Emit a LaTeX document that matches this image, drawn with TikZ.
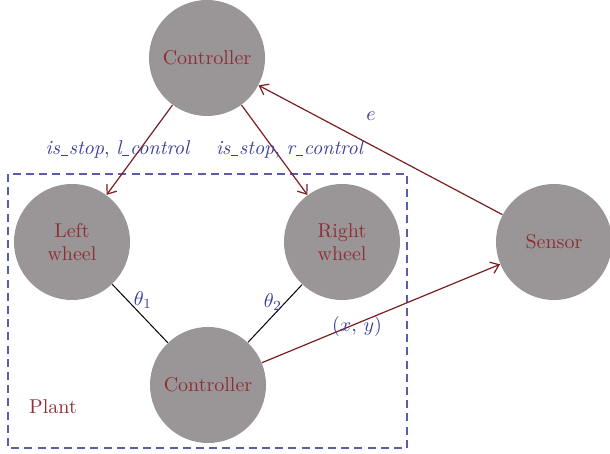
\documentclass[tikz,border=0pt]{standalone}
\usetikzlibrary{arrows.meta}
\definecolor{nodegray}{HTML}{9A9597}
\definecolor{labred}{HTML}{8E2F36}
\definecolor{labblue}{HTML}{3D4199}
\definecolor{arrred}{HTML}{7A1E22}
% short, low underscore for identifiers
\newcommand\lowbar{\kern0.4pt\rule[-0.5pt]{3.6pt}{0.5pt}\kern0.4pt}
\begin{document}
\begin{tikzpicture}[x=0.5pt,y=-0.5pt,
  blob/.style={circle,fill=nodegray,minimum size=58pt,inner sep=0pt,
    text=labred,font=\fontsize{10}{11.5}\selectfont,align=center},
  flow/.style={draw=arrred,line width=0.6pt,-{Straight Barb[length=4pt,width=6pt]}},
  link/.style={draw=black,line width=0.5pt},
  elabel/.style={text=labblue,font=\fontsize{10}{12}\selectfont,inner sep=1pt},
  plantbox/.style={draw=labblue!85,dashed,dash pattern=on 4pt off 2.6pt,line width=0.6pt}]
  \useasboundingbox (0,0) rectangle (610,454);

  % plant boundary
  \draw[plantbox] (8,174) rectangle (407,448);

  % components
  \node[blob] (ctrl)   at (207,58)  {Controller};
  \node[blob] (lwheel) at (72,242)  {Left\\wheel};
  \node[blob] (rwheel) at (342,242) {Right\\wheel};
  \node[blob] (sensor) at (554,242) {Sensor};
  \node[blob] (pctrl)  at (208,385) {Controller};

  % signals
  \draw[flow] (ctrl) -- (lwheel);
  \draw[flow] (ctrl) -- (rwheel);
  \draw[flow] (sensor) -- (ctrl);
  \draw[flow] (pctrl) -- (sensor);
  \draw[link] (lwheel) -- (pctrl);
  \draw[link] (rwheel) -- (pctrl);

  % labels
  \node[elabel] (lsig) at (118,150) {\textit{is\lowbar stop}, \textit{l\lowbar control}};
  \node[elabel] (rsig) at (290,150) {\textit{is\lowbar stop}, \textit{r\lowbar control}};
  \node[elabel] (err)  at (371,116) {$e$};
  \node[elabel] (pos)  at (357,326) {$(x,\,y)$};
  \node[elabel] (th1)  at (143,300) {$\theta_1$};
  \node[elabel] (th2)  at (273,302) {$\theta_2$};
  \node[text=labred,font=\fontsize{10}{12}\selectfont] (plant) at (53,407) {Plant};
\end{tikzpicture}
\end{document}
